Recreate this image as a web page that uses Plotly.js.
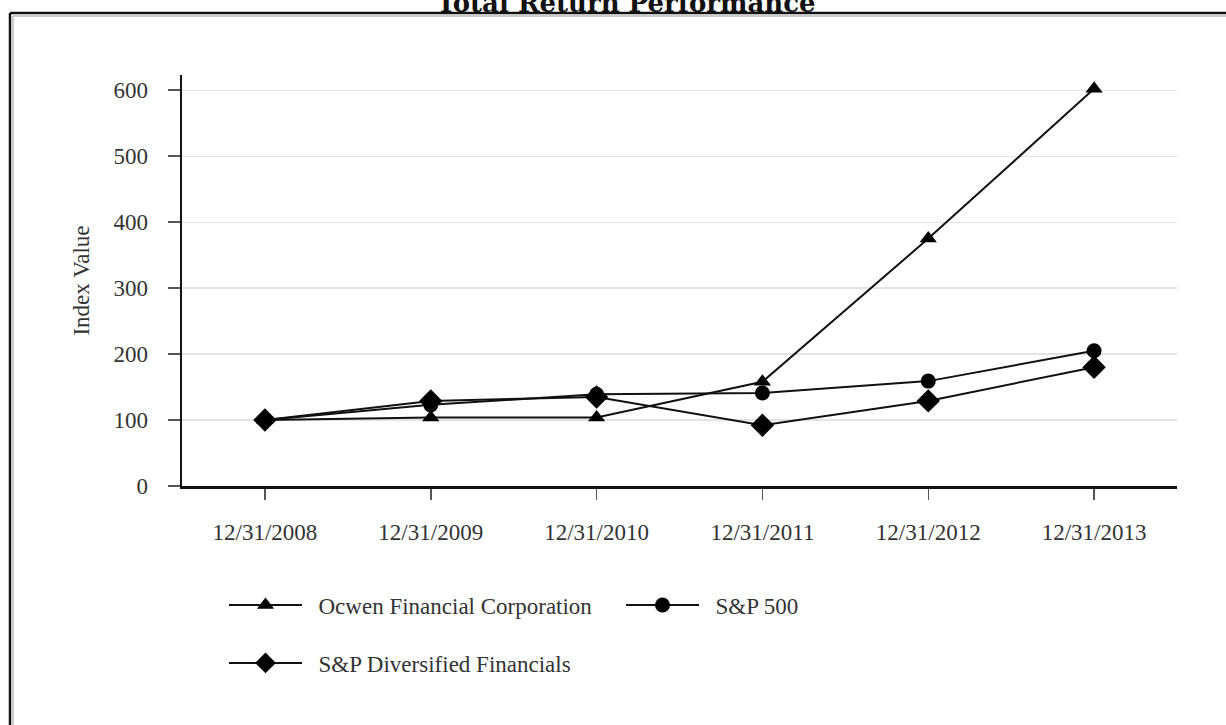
<!DOCTYPE html>
<html>
<head>
<meta charset="utf-8">
<script src="https://cdn.plot.ly/plotly-3.0.1.min.js"></script>
<style>html,body{margin:0;padding:0;background:#fff;}#chart{width:1226px;height:725px;}</style>
</head>
<body>
<div id="chart"></div>
<script>
var categories = ["12/31/2008", "12/31/2009", "12/31/2010", "12/31/2011", "12/31/2012", "12/31/2013"];
var ocwenValues = [100, 104, 104, 158, 375, 602];
var sp500Values = [100, 123, 139, 141, 159, 205];
var spDivFinValues = [100, 129, 135, 92, 129, 180];
var seriesNames = ["Ocwen Financial Corporation", "S&P 500", "S&P Diversified Financials"];
var yTickValues = [0, 100, 200, 300, 400, 500, 600];

var serif = "Liberation Serif, Times New Roman, serif";
var lineStyle = {color: "#111", width: 2};
var pad = "\u00a0\u00a0";

var traces = [
  {x: categories, y: ocwenValues, name: pad + seriesNames[0], type: "scatter", mode: "lines+markers",
   line: lineStyle, marker: {symbol: "triangle-up", size: 15, color: "#000"}, legend: "legend"},
  {x: categories, y: sp500Values, name: pad + seriesNames[1], type: "scatter", mode: "lines+markers",
   line: lineStyle, marker: {symbol: "circle", size: 15, color: "#000"}, legend: "legend"},
  {x: categories, y: spDivFinValues, name: pad + seriesNames[2], type: "scatter", mode: "lines+markers",
   line: lineStyle, marker: {symbol: "diamond", size: 18, color: "#000"}, legend: "legend2"}
];

var PL = 182, PR = 1177, PT = 75, PB = 486;
var PW = PR - PL, PH = PB - PT;
function px2x(p) { return (p - PL) / PW; }
function py2y(p) { return (PB - p) / PH; }

var FS = 23;

var layout = {
  width: 1226, height: 725,
  paper_bgcolor: "#fff", plot_bgcolor: "#fff",
  margin: {l: PL, r: 1226 - PR, t: PT, b: 725 - PB, pad: 0},
  font: {family: serif, size: FS, color: "#333"},
  title: {
    text: "<b>Total Return Performance</b>",
    font: {family: "DejaVu Serif, serif", size: 26, color: "#111"},
    x: 626 / 1226, xref: "container", xanchor: "center",
    y: 0.9965, yref: "container", yanchor: "middle"
  },
  xaxis: {
    type: "category",
    range: [-0.5, 5.5],
    showgrid: false, zeroline: false,
    showline: true, linecolor: "#111", linewidth: 2.5,
    ticks: "outside", ticklen: 11, tickwidth: 1.5, tickcolor: "#555",
    ticklabelstandoff: 13,
    tickfont: {family: serif, size: FS, color: "#333"},
    fixedrange: true
  },
  yaxis: {
    range: [0, 623],
    tickvals: yTickValues,
    ticktext: yTickValues.map(String),
    showgrid: true, gridcolor: "#e3e3e3", gridwidth: 1.2,
    zeroline: false,
    showline: true, linecolor: "#111", linewidth: 2.5,
    ticks: "outside", ticklen: 12, tickwidth: 1.5, tickcolor: "#555",
    ticklabelstandoff: 15,
    tickfont: {family: serif, size: FS, color: "#333"},
    title: {text: "Index Value", font: {family: serif, size: FS, color: "#333"}, standoff: 18},
    automargin: false,
    fixedrange: true
  },
  legend: {
    orientation: "h",
    xref: "container", yref: "container",
    x: 224 / 1226, xanchor: "left",
    y: 1 - 605 / 725, yanchor: "middle",
    entrywidth: 309, entrywidthmode: "pixels",
    itemwidth: 73,
    font: {family: serif, size: FS, color: "#333"},
    bgcolor: "rgba(0,0,0,0)", borderwidth: 0
  },
  legend2: {
    orientation: "h",
    xref: "container", yref: "container",
    x: 224 / 1226, xanchor: "left",
    y: 1 - 663 / 725, yanchor: "middle",
    itemwidth: 73,
    font: {family: serif, size: FS, color: "#333"},
    bgcolor: "rgba(0,0,0,0)", borderwidth: 0
  },
  shapes: [
    {type: "line", xref: "paper", yref: "paper", x0: px2x(10), x1: px2x(10), y0: py2y(13), y1: py2y(760), line: {color: "#111", width: 2.5}},
    {type: "line", xref: "paper", yref: "paper", x0: px2x(10), x1: px2x(1260), y0: py2y(13), y1: py2y(13), line: {color: "#111", width: 2.5}},
    {type: "line", xref: "paper", yref: "paper", x0: px2x(13), x1: px2x(13), y0: py2y(16), y1: py2y(760), line: {color: "#bbb", width: 1.5}},
    {type: "line", xref: "paper", yref: "paper", x0: px2x(13), x1: px2x(1260), y0: py2y(16), y1: py2y(16), line: {color: "#bbb", width: 1.5}}
  ],
  showlegend: true,
  hovermode: false
};

Plotly.newPlot("chart", traces, layout, {displayModeBar: false, staticPlot: true});
</script>
</body>
</html>
